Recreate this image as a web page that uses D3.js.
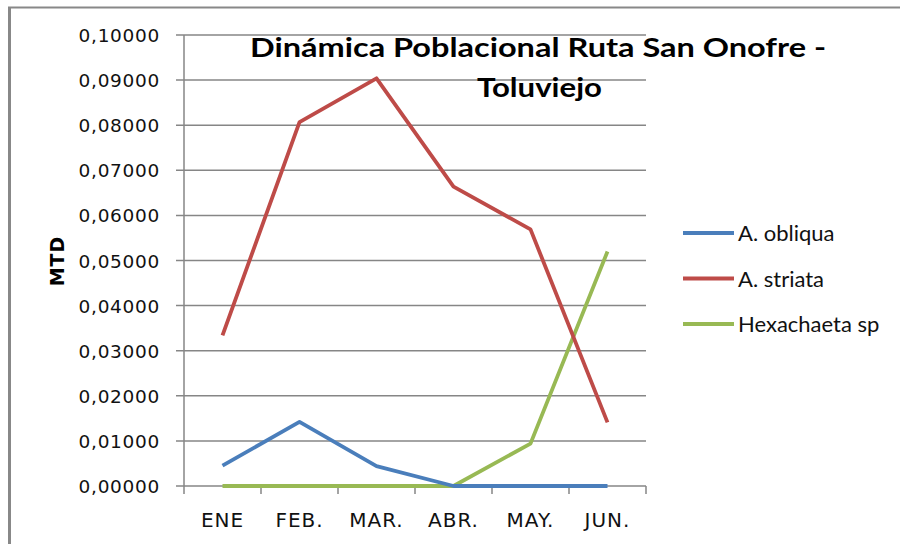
<!DOCTYPE html>
<html>
<head>
<meta charset="utf-8">
<script src="https://cdn.jsdelivr.net/npm/d3@7"></script>
<style>
  body { margin: 0; background: #fff; }
  svg { display: block; }
</style>
</head>
<body>
<svg id="chart" width="900" height="544"></svg>
<script>
// data
const months = ['ENE', 'FEB.', 'MAR.', 'ABR.', 'MAY.', 'JUN.'];
const obliqua = [0.0045, 0.0142, 0.0044, 0, 0, 0];
const striata = [0.0334, 0.0807, 0.0904, 0.0664, 0.0569, 0.0141];
const hexachaeta = [0, 0, 0, 0, 0.0094, 0.0520];
const seriesNames = ['A. obliqua', 'A. striata', 'Hexachaeta sp'];
const seriesColors = ['#4A7EBB', '#BE4B48', '#98B954'];
const yTicks = [0, 0.01, 0.02, 0.03, 0.04, 0.05, 0.06, 0.07, 0.08, 0.09, 0.10];

const svg = d3.select('#chart');

// outer frame (only left and top edges visible)
svg.append('line').attr('x1', 9.5).attr('y1', 7).attr('x2', 9.5).attr('y2', 544)
    .attr('stroke', '#888').attr('stroke-width', 3);
svg.append('line').attr('x1', 8).attr('y1', 7.5).attr('x2', 900).attr('y2', 7.5)
    .attr('stroke', '#888').attr('stroke-width', 2);

const plotLeft = 184, plotRight = 646, plotTop = 35, plotBottom = 486;

const x = d3.scaleBand().domain(months).range([plotLeft, plotRight]);
const y = d3.scaleLinear().domain([0, 0.10]).range([plotBottom, plotTop]);

// gridlines + y ticks
svg.append('g')
    .selectAll('line')
    .data(yTicks)
    .enter()
    .append('line')
    .attr('x1', plotLeft - 8)
    .attr('x2', plotRight)
    .attr('y1', d => y(d))
    .attr('y2', d => y(d))
    .attr('stroke', '#868686')
    .attr('stroke-width', 1.5);

// y axis line
svg.append('line').attr('x1', plotLeft).attr('x2', plotLeft).attr('y1', plotTop).attr('y2', plotBottom + 8)
    .attr('stroke', '#868686').attr('stroke-width', 1.5);

// x tick marks at band edges
const edges = months.map(m => x(m)).concat([plotRight]);
svg.append('g')
    .selectAll('line')
    .data(edges.slice(1))
    .enter()
    .append('line')
    .attr('x1', d => d).attr('x2', d => d)
    .attr('y1', plotBottom).attr('y2', plotBottom + 8)
    .attr('stroke', '#868686').attr('stroke-width', 1.5);

// y tick labels
const fmt = d => d.toFixed(5).replace('.', ',');
svg.append('g')
    .selectAll('text')
    .data(yTicks)
    .enter()
    .append('text')
    .attr('x', 160)
    .attr('y', d => y(d) + 7)
    .attr('text-anchor', 'end')
    .attr('font-family', 'DejaVu Sans')
    .attr('font-size', 18.5)
    .attr('letter-spacing', 0.7)
    .attr('fill', '#111')
    .text(fmt);

// x labels
svg.append('g')
    .selectAll('text')
    .data(months)
    .enter()
    .append('text')
    .attr('x', d => x(d) + x.bandwidth() / 2)
    .attr('y', 527)
    .attr('text-anchor', 'middle')
    .attr('font-family', 'DejaVu Sans')
    .attr('font-size', 20)
    .attr('letter-spacing', 1)
    .attr('fill', '#111')
    .text(d => d);

// y axis title
svg.append('text')
    .attr('transform', 'translate(64,261) rotate(-90)')
    .attr('text-anchor', 'middle')
    .attr('font-family', 'DejaVu Sans')
    .attr('font-weight', 'bold')
    .attr('font-size', 19)
    .attr('letter-spacing', 1)
    .text('MTD');

// series lines
const allSeries = [obliqua, striata, hexachaeta];
const line = d3.line()
    .x((d, i) => x(months[i]) + x.bandwidth() / 2)
    .y(d => y(d));

[2, 0, 1].forEach(k => {
    svg.append('path')
        .datum(allSeries[k])
        .attr('d', line)
        .attr('fill', 'none')
        .attr('stroke', seriesColors[k])
        .attr('stroke-width', 3.8)
        .attr('stroke-linejoin', 'round');
});

// title
svg.append('text')
    .attr('x', 250).attr('y', 57)
    .attr('font-family', 'Lato')
    .attr('font-weight', 'bold')
    .attr('font-size', 26)
    .attr('textLength', 576)
    .attr('lengthAdjust', 'spacingAndGlyphs')
    .text('Dinámica Poblacional Ruta San Onofre -');
svg.append('text')
    .attr('x', 477).attr('y', 97)
    .attr('font-family', 'Lato')
    .attr('font-weight', 'bold')
    .attr('font-size', 26)
    .attr('textLength', 125)
    .attr('lengthAdjust', 'spacingAndGlyphs')
    .text('Toluviejo');

// legend
const legend = svg.append('g')
    .selectAll('g')
    .data(seriesNames)
    .enter()
    .append('g')
    .attr('transform', (d, i) => `translate(683, ${233 + i * 45.5})`);
legend.append('line')
    .attr('x1', 0).attr('x2', 51)
    .attr('stroke', (d, i) => seriesColors[i])
    .attr('stroke-width', 3.8);
legend.append('text')
    .attr('x', 55).attr('y', 8)
    .attr('font-family', 'Lato')
    .attr('font-size', 22)
    .attr('fill', '#111')
    .text(d => d);
</script>
</body>
</html>
